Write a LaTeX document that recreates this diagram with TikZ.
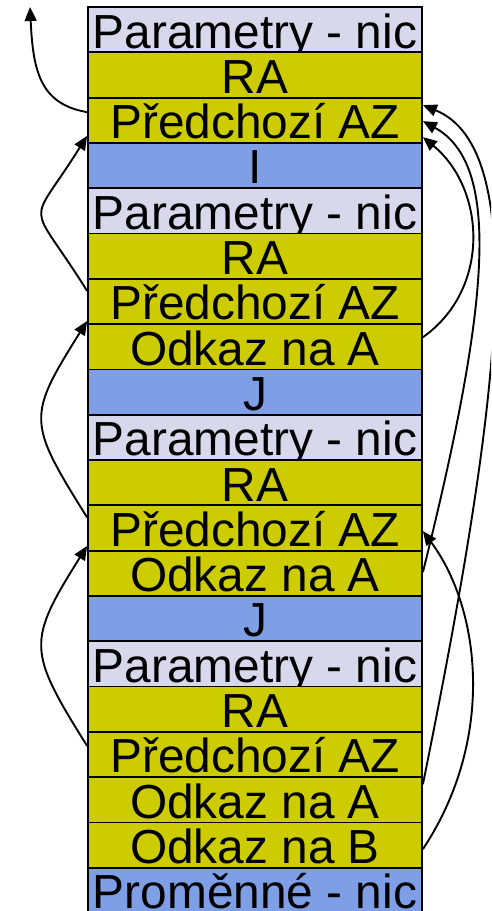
\documentclass[tikz,border=0pt]{standalone}
\usepackage{fontspec}
\setmainfont{Liberation Sans}
\usetikzlibrary{arrows.meta}
\definecolor{lav}{HTML}{D8D8EC}
\definecolor{oli}{HTML}{CCCC00}
\definecolor{blu}{HTML}{7E9EE6}
\begin{document}
\begin{tikzpicture}[x=1pt,y=-1pt,
  row/.style={draw=black,line width=1.8pt,rectangle,inner sep=0pt,
    minimum width=334pt,minimum height=45.3pt,text height=41pt,text depth=4.3pt,
    font=\fontsize{47.8}{47.8}\selectfont},
  link/.style={line width=1.9pt,-{Triangle[length=14pt,width=12pt]}}]
\useasboundingbox (0,0) rectangle (491,911);
\clip (0,0) rectangle (491,911);
\foreach \i/\c/\t in {0/lav/Parametry - nic,1/oli/RA,2/oli/Předchozí AZ,3/blu/I,
  4/lav/Parametry - nic,5/oli/RA,6/oli/Předchozí AZ,7/oli/Odkaz na A,8/blu/J,
  9/lav/Parametry - nic,10/oli/RA,11/oli/Předchozí AZ,12/oli/Odkaz na A,13/blu/J,
  14/lav/Parametry - nic,15/oli/RA,16/oli/Předchozí AZ,17/oli/Odkaz na A,
  18/oli/Odkaz na B,19/blu/Proměnné - nic}
  \node[row,fill=\c] (r\i) at (255,{7+45.3*\i+22.65}) {\t};
\coordinate (out) at (30,7);
% left links
\draw[link] ([yshift=-15.4pt]r2.north west) .. controls +(-48,-8) and +(3,62) .. (out);
\draw[link] ([yshift=-13pt]r6.north west) .. controls +(-60,-96) and +(-60,96) .. ([yshift=8pt]r2.south west);
\draw[link] ([yshift=-13pt]r11.north west) .. controls +(-60,-96) and +(-60,96) .. ([yshift=4pt]r6.south west);
\draw[link] ([yshift=-15pt]r16.north west) .. controls +(-60,-96) and +(-60,96) .. ([yshift=5.6pt]r11.south west);
% right links
\draw[link] ([yshift=-14pt]r7.north east) .. controls +(68,-48) and +(63,52) .. ([yshift=-40.4pt]r2.north east);
\draw[link] ([yshift=-22.4pt]r12.north east) .. controls +(68,-273) and +(78,43) .. ([yshift=-24.4pt]r2.north east);
\draw[link] ([yshift=-8pt]r17.north east) .. controls +(78,-385) and +(108,44) .. ([yshift=-8.4pt]r2.north east);
\draw[link] ([yshift=-27.6pt]r18.north east) .. controls +(73,-110) and +(58,78) .. ([yshift=-26.7pt]r11.north east);
\end{tikzpicture}
\end{document}
